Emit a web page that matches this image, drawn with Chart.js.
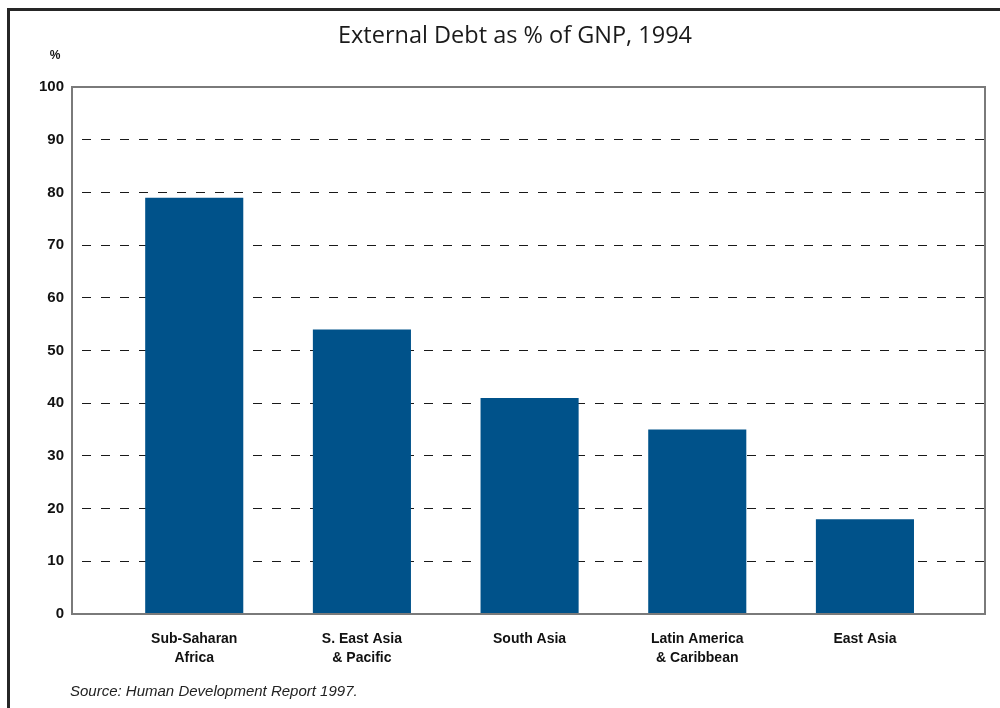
<!DOCTYPE html>
<html>
<head>
<meta charset="utf-8">
<script src="https://cdn.jsdelivr.net/npm/chart.js@4.4.0/dist/chart.umd.min.js"></script>
<style>
  html, body { margin: 0; padding: 0; background: #fff; }
  #wrap { position: relative; width: 1000px; height: 708px; overflow: hidden; }
  #frame { position: absolute; left: 7px; top: 8px; width: 1100px; height: 800px;
           border-left: 3px solid #262626; border-top: 3px solid #262626; }
  canvas { position: absolute; left: 0; top: 0; }
</style>
</head>
<body>
<div id="wrap">
  <div id="frame"></div>
  <canvas id="c" width="1000" height="708"></canvas>
</div>
<script>
const chartTitle = "External Debt as % of GNP, 1994";
const yUnitLabel = "%";
const sourceNote = "Source: Human Development Report 1997.";
const categories = [
  ["Sub-Saharan", "Africa"],
  ["S. East Asia", "& Pacific"],
  ["South Asia"],
  ["Latin America", "& Caribbean"],
  ["East Asia"]
];
const debtPct = [79, 54, 41, 35, 18];
const yTicks = [0, 10, 20, 30, 40, 50, 60, 70, 80, 90, 100];

const barData = debtPct.map((v, i) => ({ x: i, y: v }));

const extrasPlugin = {
  id: 'extras',
  afterDatasetsDraw(chart) {
    const { ctx, chartArea: a } = chart;
    ctx.save();
    ctx.strokeStyle = '#7a7a7a';
    ctx.lineWidth = 2;
    ctx.strokeRect(a.left, a.top, a.right - a.left, a.bottom - a.top);
    ctx.restore();
  },
  afterDraw(chart) {
    const { ctx } = chart;
    ctx.save();
    ctx.fillStyle = '#1a1a1a';
    ctx.font = '23.5px "Open Sans", "Liberation Sans", sans-serif';
    ctx.textAlign = 'center';
    ctx.textBaseline = 'alphabetic';
    ctx.fillText(chartTitle, 515, 43);
    ctx.fillStyle = '#111';
    ctx.font = 'bold 12px "Liberation Sans", Arial, sans-serif';
    ctx.textBaseline = 'middle';
    ctx.fillText(yUnitLabel, 55, 56);
    ctx.font = 'italic 15px "Liberation Sans", Arial, sans-serif';
    ctx.textAlign = 'left';
    ctx.textBaseline = 'alphabetic';
    ctx.fillStyle = '#222';
    ctx.fillText(sourceNote, 70, 696);
    ctx.restore();
  }
};

new Chart(document.getElementById('c'), {
  type: 'bar',
  data: {
    datasets: [{
      data: barData,
      backgroundColor: '#00528a',
      borderWidth: 0,
      categoryPercentage: 1,
      barPercentage: 0.585
    }]
  },
  options: {
    responsive: false,
    animation: false,
    layout: { padding: { left: 0, right: 15, top: 87, bottom: 0 } },
    plugins: {
      legend: { display: false },
      tooltip: { enabled: false },
      title: { display: false }
    },
    scales: {
      x: {
        type: 'linear',
        offset: false,
        min: -0.729,
        max: 4.716,
        afterBuildTicks(scale) {
          scale.ticks = categories.map((_, i) => ({ value: i }));
        },
        afterFit(scale) { scale.height = 94; },
        grid: { display: false, drawTicks: false, offset: false },
        border: { display: false },
        ticks: {
          autoSkip: false,
          maxRotation: 0,
          padding: 15,
          color: '#111',
          font: { family: '"Liberation Sans", Arial, sans-serif', size: 14, weight: 'bold', lineHeight: 1.4 },
          callback: (v) => categories[v]
        }
      },
      y: {
        min: 0,
        max: 100,
        afterBuildTicks(scale) {
          scale.ticks = yTicks.map(v => ({ value: v }));
        },
        afterFit(scale) { scale.width = 72; },
        grid: {
          drawTicks: false,
          lineWidth: 1,
          color: (c) => (c.tick && (c.tick.value === 0 || c.tick.value === 100)) ? 'rgba(0,0,0,0)' : '#1a1a1a'
        },
        border: { display: false, dash: [9, 10], dashOffset: 9 },
        ticks: {
          padding: 8,
          color: '#111',
          font: { family: '"Liberation Sans", Arial, sans-serif', size: 15, weight: 'bold' }
        }
      }
    }
  },
  plugins: [extrasPlugin]
});
</script>
</body>
</html>
